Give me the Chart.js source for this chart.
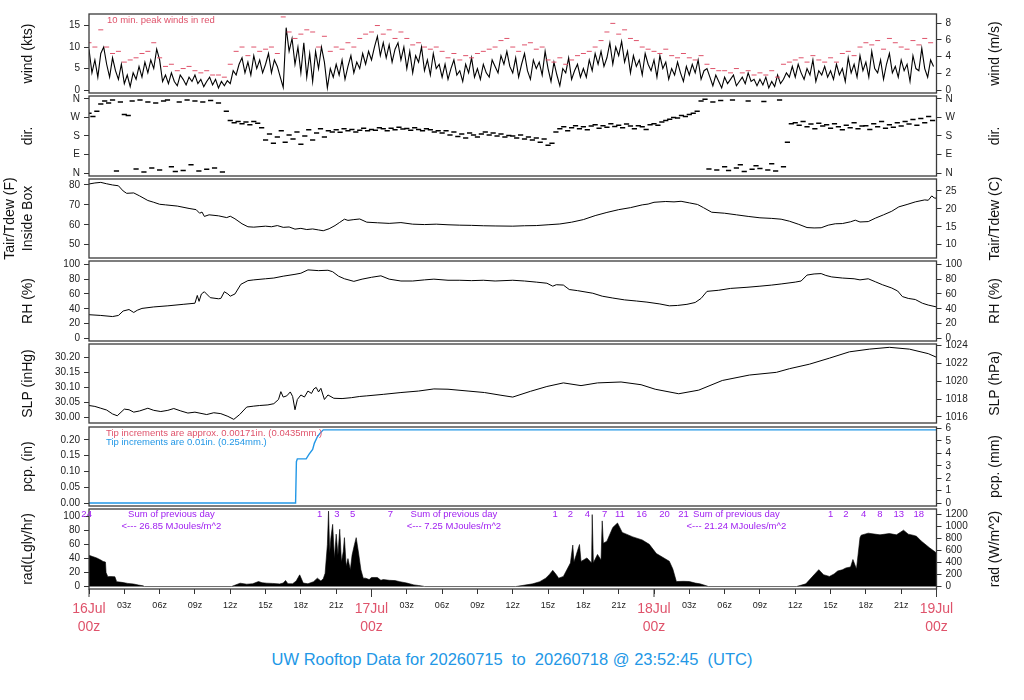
<!DOCTYPE html>
<html>
<head>
<meta charset="utf-8">
<script src="https://cdn.jsdelivr.net/npm/chart.js@4.4.1/dist/chart.umd.min.js"></script>
<style>
  html, body { margin: 0; padding: 0; background: #fff; }
  #wrap { position: relative; width: 1024px; height: 700px; overflow: hidden; }
  canvas { position: absolute; left: 0; }
  #title { position: absolute; left: 0; top: 650px; width: 1024px; line-height: 20px; text-align: center;
           font: 16.5px "Liberation Sans", Arial, sans-serif; color: #2297e6; white-space: pre; }
</style>
</head>
<body>
<div id="wrap">
  <canvas id="cWind"></canvas>
  <canvas id="cDir"></canvas>
  <canvas id="cTemp"></canvas>
  <canvas id="cRh"></canvas>
  <canvas id="cSlp"></canvas>
  <canvas id="cPcp"></canvas>
  <canvas id="cRad"></canvas>
  <div id="title">UW Rooftop Data for 20260715  to  20260718 @ 23:52:45  (UTC)</div>
</div>
<script>
// --- data (hours after 16Jul 00z) ---
const dayLabels = ['16Jul', '17Jul', '18Jul', '19Jul'];

// mean wind (kts), every 15 min
const windKts = [
  9.5, 4, 7, 3, 8.5, 10, 6, 3, 7.5, 4.5, 2.5, 6,
  1.5, 3.5, 0.8, 4, 2.5, 5.5, 3, 6.5, 4, 7, 5, 9.5,
  7, 2, 3.5, 1.5, 4, 2, 1, 3.5, 2.5, 1.2, 3, 2,
  3.5, 1.5, 2.5, 0.8, 2, 3, 1.2, 2.5, 0.5, 2, 1, 2.2,
  1.5, 4.5, 3.5, 6, 7.5, 4, 6.5, 3.5, 8, 5, 7, 4,
  6, 8.5, 4, 7, 5.5, 3, 0.6, 14.5, 9, 12, 6, 10,
  4, 11, 3, 8.5, 2, 9, 5, 10, 6.5, 0.5, 5, 3,
  6, 3.5, 7, 2.5, 5.5, 8, 4, 6.5, 5, 8.5, 6, 9,
  7, 10, 12.5, 8, 11, 7.5, 10.5, 6.5, 9.5, 11, 7, 10,
  5, 9, 4, 8, 6.5, 10, 4.5, 7, 3.5, 8.5, 5, 6,
  3, 6, 2.5, 5, 7, 3.5, 4.5, 2, 6, 4, 7.5, 3,
  5, 2.5, 6, 4, 3, 7, 5.5, 4, 8, 6, 9, 5.5,
  4, 7.5, 3, 6, 8.5, 4.5, 2.5, 7, 5, 6.5, 3.5, 9,
  5, 2, 6.5, 3.5, 1, 5, 4, 7.5, 2.5, 4.5, 6, 3,
  5, 3, 7, 4.5, 8.5, 6, 9, 5.5, 7.5, 11, 6, 10,
  8, 11.3, 6.5, 9, 4, 8, 5.5, 7, 3.5, 8.5, 6, 4.5,
  7, 3, 8, 5, 6.5, 2.5, 5, 3.5, 6.5, 4, 2, 5.5,
  3.5, 6, 4, 7, 2.5, 4.5, 5, 3, 1, 3.5, 2, 0.5,
  3, 1.5, 2.5, 3.5, 1, 2, 3, 1.5, 4, 2, 2.5, 1,
  2.5, 1.2, 3, 0.5, 2, 0.8, 3.5, 1.5, 2.5, 4, 3, 5.5,
  3, 6, 4, 2.5, 5, 3.5, 7, 2, 4.5, 3.5, 5.5, 3,
  4.5, 2.5, 6, 3.5, 5, 2, 7.5, 4, 6, 3, 8, 4.5,
  6.5, 3, 9, 5, 4, 7, 2.5, 6, 8.5, 4, 5.5, 3,
  7, 4.5, 6, 2, 8, 5, 4.5, 9.7, 5, 3, 7, 5.5
];

// 10-min peak wind (kts), every 30 min
const peakKts = [
  11, 10, 14, 10, 8.5, 9,     6.5, 7, 7.5, 8.5, 9, 11,
  7.5, 5.5, 6, 4.5, 5, 5.5,   4.5, 4, 4.5, 3.5, 3.5, 3,
  6, 9, 10, 8, 10, 9,         9.5, 10, 8.5, 17, 13.5, 12,
  13, 14, 13.5, 10, 12.5, 9,  10, 9.5, 11, 10, 12, 13,
  13.5, 15, 13, 14, 12, 13.5, 12, 10.5, 11, 10, 9.5, 10,
  9, 7.5, 8.5, 7, 8, 7.5,     8.5, 9, 9.5, 10, 11.5, 12,
  10, 9, 10.5, 11, 9.5, 10,   7, 6.5, 7.5, 6, 7, 8,
  8.5, 9, 10, 11.5, 13.5, 15.5, 13, 14, 12, 11.5, 10, 9.5,
  9, 8.5, 9.5, 8, 7.5, 8.5,   7.5, 7, 8, 6, 5, 4.5,
  4.5, 4, 5, 4, 4.5, 3.5,     4, 3.5, 4.5, 3, 6, 6.5,
  7, 7.5, 6.5, 8, 7, 6.5,     7.5, 6.5, 8.5, 9, 8, 10,
  11, 10.5, 11.5, 9.5, 12, 11, 10, 9.5, 11.5, 10.5, 12, 11
];

// wind direction (deg), every 20 min
const dirDeg = [
  290, 275, 300, 335, 350, 340, 355, 10, 345,
  285, 280, 350, 20, 355, 5, 345, 25, 340,
  15, 350, 355, 30, 8, 345, 12, 355, 40,
  350, 10, 345, 18, 352, 25, 340, 5, 300,
  255, 245, 250, 240, 248, 235, 250, 242, 220,
  160, 190, 145, 175, 205, 150, 185, 165, 200,
  140, 180, 210, 160, 195, 215, 175, 205, 200,
  210, 198, 215, 205, 212, 200, 208, 218, 205,
  212, 208, 220, 215, 205, 218, 210, 222, 214,
  216, 208, 220, 212, 205, 215, 210, 200, 206,
  195, 205, 185, 200, 178, 190, 170, 195, 185,
  175, 190, 200, 185, 195, 180, 190, 175, 182,
  180, 170, 185, 165, 175, 160, 170, 150, 165,
  135, 145, 200, 215, 225, 205, 220, 230, 215,
  225, 210, 228, 235, 218, 230, 222, 240, 226,
  232, 220, 238, 228, 215, 230, 225, 212, 235,
  240, 232, 248, 255, 262, 270, 268, 280, 275,
  285, 290, 300, 350, 358, 20, 345, 15, 352,
  30, 12, 355, 25, 40, 8, 350, 18, 35,
  22, 348, 15, 45, 10, 355, 30, 150, 240,
  245, 232, 250, 225, 238, 215, 242, 228, 235,
  218, 240, 225, 210, 232, 220, 245, 215, 228,
  230, 212, 240, 225, 250, 218, 235, 222, 245,
  228, 250, 238, 260, 232, 265, 245, 275, 255
];

// air temperature inside box (F)
const tempHours = [0, 0.5, 1, 1.5, 2, 2.5, 2.9, 3.2, 3.8, 4.3, 5, 5.5, 6, 6.5, 7.5, 8.5, 9.1, 9.4, 9.6, 9.8,
  10.2, 11, 11.7, 12, 12.4, 13, 13.5, 14, 15, 15.5, 16, 16.5, 17, 17.5, 18, 18.5, 19, 19.5, 19.9, 20.4,
  20.9, 21.3, 21.7, 22, 22.5, 23, 23.6, 24.5, 25.5, 26.5, 27.5, 28.5, 29.5, 30.5, 31.5, 32.5, 33.5, 34.5, 36,
  37, 38, 39, 40, 41, 42, 43, 44, 45, 46, 47, 47.5, 48, 49, 49.7, 50.3, 51, 51.7, 52.2, 52.9, 54, 55, 56,
  57, 58, 58.8, 59.5, 60.3, 61, 61.6, 62.2, 62.8, 63.4, 64, 64.7, 65.1, 65.5, 66.2, 66.8, 67.5, 68.2, 68.8,
  69.5, 70.2, 71, 71.3, 71.6, 71.8, 72];
const tempF = [80.5, 81, 81.3, 80.6, 80, 79.6, 77, 75.8, 76, 74.5, 72.2, 71.3, 70.3, 70, 69.4, 68.2, 67.6, 65.8, 66.4, 64.2,
  65, 64.5, 63.6, 64.3, 63, 60.5, 59, 58.8, 59.3, 59, 59.6, 58.7, 58.9, 57.8, 58.2, 57.6, 57.9, 57.4, 57, 58,
  59.6, 61.2, 62.8, 62.2, 62.6, 62.9, 61.3, 61, 60.7, 61.1, 60.3, 60.1, 60.3, 60, 59.8, 59.7, 59.5, 59.4, 59.3,
  59.5, 59.6, 60, 60.4, 61.3, 62.6, 64.6, 66.2, 67.6, 68.6, 70, 70.4, 71.3, 71.7, 71.5, 71.8, 71, 70.2, 68.6, 66.3, 65.8, 65, 64.2,
  63.5, 63.2, 62.8, 61.8, 60.2, 58.6, 58.4, 58.5, 59.8, 60.5, 60.6, 61.5, 62.3, 61.4, 61.6, 63.3, 65, 66.8, 69,
  70.2, 71.5, 72.5, 72.3, 74.5, 73.5, 73.3];

// relative humidity (%)
const rhHours = [0, 1, 2, 2.5, 2.9, 3.4, 3.8, 4.1, 4.5, 5.5, 6.7, 8, 9, 9.2, 9.35, 9.55, 9.8, 10.3, 11, 11.2,
  11.5, 11.8, 12, 12.4, 12.9, 13.5, 14, 15, 15.7, 16.5, 17.5, 18, 18.6, 19.5, 20.3, 20.7, 21.2, 21.7, 22.5, 23.2,
  24, 24.8, 25.5, 26.5, 27.5, 28.5, 29.3, 30.5, 31.5, 32.5, 33.5, 34.5, 36, 37, 38, 38.9, 39.4, 39.7, 40.3, 40.8,
  41.5, 42.8, 43.6, 44.5, 45.5, 46.5, 47.4, 48.5, 49.3, 50, 50.8, 51.5, 52, 52.5, 53.5, 54.5, 55.9, 57, 58, 58.8,
  60, 60.5, 61, 61.6, 62.2, 62.6, 63.1, 64, 65, 65.5, 66.2, 66.8, 67.4, 68.2, 68.7, 69.1, 69.6, 70.2, 70.8, 71.3, 72];
const rhPct = [32, 31, 29.5, 31, 37, 39, 35, 38, 40.5, 42.5, 44, 46, 47.5, 58, 50, 60, 63, 55, 53.5, 54,
  63, 60, 57, 60, 73, 78, 79, 80.5, 81.5, 84, 86.5, 88, 92.5, 91.5, 92, 90, 84, 80.5, 77, 80,
  82.5, 84.5, 80, 77.5, 77.5, 79, 80, 78.5, 78.5, 78, 78.5, 77.5, 78.5, 77.5, 76, 74.5, 70.5, 72.5, 72, 66,
  64.5, 61, 57, 54.5, 52, 50.5, 49, 46.5, 44, 44.5, 46, 48.5, 54, 63.5, 65, 67.5, 69, 70.5, 72, 73.5,
  76, 77.5, 85.5, 87, 87.5, 85, 83, 81.5, 80.5, 79, 80.5, 76.5, 72.5, 68, 64, 56.5, 54, 52.5, 47.5, 45, 42.5];

// sea-level pressure (inHg)
const slpHours = [0, 0.5, 1, 1.5, 2, 2.4, 3, 3.4, 3.8, 4.3, 5, 5.5, 6.1, 6.7, 7.2, 7.8, 8.4, 9, 10, 10.6,
  11.2, 11.8, 12.3, 12.8, 13.4, 14, 14.5, 15.2, 15.7, 16.1, 16.3, 16.5, 16.8, 17.1, 17.3, 17.5, 17.7, 18, 18.3, 18.6,
  18.9, 19.1, 19.3, 19.5, 19.7, 20, 20.3, 20.8, 21.5, 22.3, 23, 23.6, 25, 26.5, 28, 29.3, 30.5, 32.2, 33.6, 35,
  36, 37.5, 38.9, 40.3, 41.8, 43.2, 45.2, 46.9, 48.1, 50.1, 51.8, 53.8, 56.1, 58.4, 59.5, 61.2, 62.9, 64.6, 66.3, 68,
  69.7, 71.3, 72];
const slpInHg = [30.040, 30.037, 30.031, 30.025, 30.012, 30.006, 30.028, 30.026, 30.018, 30.022, 30.031, 30.024, 30.020, 30.024, 30.030, 30.022, 30.015, 30.018, 30.010, 30.016,
  30.013, 30.004, 29.994, 30.010, 30.035, 30.038, 30.040, 30.042, 30.046, 30.060, 30.086, 30.068, 30.072, 30.085, 30.070, 30.026, 30.060, 30.075, 30.068, 30.088,
  30.080, 30.095, 30.100, 30.085, 30.097, 30.060, 30.075, 30.064, 30.063, 30.066, 30.070, 30.072, 30.077, 30.083, 30.088, 30.095, 30.094, 30.088, 30.083, 30.074,
  30.068, 30.087, 30.103, 30.115, 30.106, 30.115, 30.118, 30.109, 30.094, 30.079, 30.091, 30.123, 30.141, 30.150, 30.162, 30.177, 30.197, 30.218, 30.227, 30.233,
  30.227, 30.212, 30.200];

// accumulated precipitation (in)
const pcpHours = [0, 17.55, 17.62, 17.7, 18.45, 18.7, 19.0, 19.15, 19.4, 19.6, 19.9, 72];
const pcpIn = [0, 0, 0.131, 0.14, 0.14, 0.155, 0.17, 0.19, 0.21, 0.22, 0.232, 0.232];

// solar radiation (Langley/hr)
const radHours = [0, 0.3, 0.65, 1.0, 1.2, 1.4, 1.45, 1.6, 1.8, 2.2, 2.35, 2.8, 3.3, 3.8, 4.2, 4.6, 4.7,
  12.1, 12.84, 13.4, 13.9, 14.4, 14.7, 15.1, 15.6, 16.2, 16.5, 16.7, 16.9, 17.3, 17.6, 17.9, 18.2, 18.6, 19.08, 19.4,
  19.7, 19.9, 20.06, 20.25, 20.35, 20.45, 20.55, 20.7, 20.85, 21.0, 21.15, 21.3, 21.45, 21.6, 21.7, 21.85, 22.0, 22.2,
  22.35, 22.55, 22.7, 22.9, 23.1, 23.3, 23.5, 23.8, 24.0, 24.5, 24.8, 25.0, 25.5, 26.0, 26.4, 27.0, 27.6, 28.0, 28.4, 28.5,
  36.25, 37.7, 38.3, 38.8, 39.1, 39.4, 39.7, 39.9, 40.3, 40.9, 41.1, 41.2, 41.67, 41.8, 42.3, 42.7, 42.75, 42.85,
  43.2, 43.5, 43.6, 43.7, 44.0, 44.5, 44.9, 45.3, 46.2, 47.0, 47.6, 48.2, 49.3, 49.6, 49.9, 50.5, 51.0, 51.5, 51.9, 52.5, 52.6,
  60.1, 60.9, 61.5, 62.0, 62.4, 62.9, 63.3, 63.6, 64.0, 64.3, 64.7, 64.9, 65.2, 65.5, 65.6, 66.2, 67.2, 68.0, 68.6,
  69.2, 69.6, 70.0, 70.3, 70.7, 71.4, 71.9, 72];
const radLy = [44.7, 43, 41, 38, 36, 35, 20, 14, 14.4, 14, 7, 6, 4.5, 3.6, 2.2, 1, 0,
  0, 4.8, 3.4, 4, 7.2, 5.5, 4.8, 4.5, 3.8, 5, 8.7, 4, 4, 8, 16.8, 5, 4, 7, 12,
  8, 11, 19, 60, 108, 48, 70, 89, 40, 75, 45, 82, 35, 50, 70, 29, 40, 24,
  45, 60, 70, 48, 24, 12, 12, 10, 13, 13, 9, 10, 9, 8.5, 7, 5, 2.4, 1.5, 0.5, 0,
  0, 3.9, 7, 12, 17, 23.2, 17, 12, 14.5, 33.8, 59.4, 35, 60.2, 36, 41, 33.8, 103, 34,
  46, 38, 94, 62, 65, 84.6, 90.9, 77.5, 71.1, 66.7, 60.4, 47.3, 36.2, 25.1, 7.2, 7.5, 7.2, 5, 3.9, 0.9, 0,
  0, 3.9, 15, 24.2, 17, 14.5, 18, 22.2, 24, 26.6, 28, 38.7, 25.1, 70, 73.5, 76.4, 74, 75.9, 74,
  80.7, 75, 73.5, 72, 65.2, 55.6, 49.3, 48];

// hourly accumulated radiation labels and daily sums
const radCumHours = [-0.2, 19.6, 21.05, 22.4, 25.6, 39.6, 40.9, 42.35, 43.8, 45.1, 46.95, 48.9, 50.5, 63.0, 64.3, 65.8, 67.2, 68.8, 70.5];
const radCumLabels = ['24', '1', '3', '5', '7', '1', '2', '4', '7', '11', '16', '20', '21', '1', '2', '4', '8', '13', '18'];
const sumHours = [7, 31, 55];
const sumMJ = ['26.85', '7.25', '21.24'];

// --- drawing ---
const FONT = '"Liberation Sans", Arial, Helvetica, sans-serif';
const PINK = '#df536b';
const BLUE = '#2297e6';
const PURPLE = '#a020f0';
const KTS_PER_MS = 1.94384;
const HPA_PER_INHG = 33.8639;
const W_PER_LY = 11.622;

Chart.defaults.font.family = FONT;
Chart.defaults.animation = false;

const pairs = (xs, ys) => ys.map((y, i) => ({ x: xs[i], y: y }));
const every = (ys, step) => ys.map((y, i) => ({ x: i * step, y: y }));

function rot(ctx, text, x, y) {
  ctx.save();
  ctx.translate(x, y);
  ctx.rotate(-Math.PI / 2);
  ctx.fillText(text, 0, 0);
  ctx.restore();
}

// frame, axis titles and notes
const decor = {
  id: 'decor',
  afterDraw(chart, args, o) {
    const ctx = chart.ctx, a = chart.chartArea;
    ctx.save();
    ctx.strokeStyle = '#3a3a3a';
    ctx.lineWidth = 1.3;
    ctx.strokeRect(a.left, a.top, a.right - a.left, a.bottom - a.top);
    if (o.dayTicks) {
      ctx.lineWidth = 1;
      [0, 24, 48, 72].forEach(h => {
        const x = chart.scales.x.getPixelForValue(h);
        ctx.beginPath(); ctx.moveTo(x, a.bottom); ctx.lineTo(x, a.bottom + 8); ctx.stroke();
      });
    }
    const cy = (a.top + a.bottom) / 2;
    ctx.fillStyle = '#111';
    ctx.font = '14px ' + FONT;
    ctx.textAlign = 'center';
    ctx.textBaseline = 'middle';
    const lt = o.left || [];
    lt.forEach((t, i) => rot(ctx, t, 28 - (lt.length - 1 - i) * 18, cy));
    if (o.right) rot(ctx, o.right, 995, cy);
    (o.notes || []).forEach(n => {
      ctx.font = (n.size || 9.5) + 'px ' + FONT;
      ctx.fillStyle = n.c;
      ctx.textAlign = n.align || 'center';
      const x = n.h !== undefined ? chart.scales.x.getPixelForValue(n.h) : n.x;
      ctx.fillText(n.t, x, a.top + n.dy);
    });
    ctx.restore();
  }
};

function yAxis(pos, min, max, step, cb) {
  return {
    position: pos, min: min, max: max,
    afterFit: s => { s.width = pos === 'left' ? 89 : 87.5; },
    grid: { drawOnChartArea: false, drawTicks: true, tickLength: 5, tickColor: '#333' },
    border: { display: false },
    ticks: { stepSize: step, includeBounds: false, autoSkip: false, padding: 4, color: '#222',
             font: { size: 10 }, callback: cb || (v => v) }
  };
}

function xAxis(show) {
  return {
    type: 'linear', min: 0, max: 72, display: show,
    afterFit: s => { s.height = show ? 50 : 0; },
    grid: { drawOnChartArea: false, drawTicks: true, tickLength: 5, tickColor: '#333' },
    border: { display: false },
    ticks: {
      stepSize: 3, autoSkip: false, maxRotation: 0, padding: 6,
      callback: v => v % 24 === 0 ? [dayLabels[v / 24], '00z'] : String(v % 24).padStart(2, '0') + 'z',
      color: c => (c.tick && c.tick.value % 24 === 0) ? PINK : '#222',
      font: c => (c.tick && c.tick.value % 24 === 0) ? { size: 14, lineHeight: 1.27 } : { size: 9, lineHeight: 1.2 }
    }
  };
}

function panel(id, top, bottom, datasets, y, y2, deco, showX) {
  showX = !!showX;
  const cv = document.getElementById(id);
  const padT = 10, padB = showX ? 0 : 10, xH = showX ? 50 : 0;
  cv.width = 1024;
  cv.height = (bottom - top) + padT + padB + xH;
  cv.style.top = (top - padT) + 'px';
  return new Chart(cv, {
    type: 'line',
    data: { datasets: datasets },
    options: {
      responsive: false,
      animation: false,
      layout: { padding: { top: padT, bottom: padB, left: 0, right: 0 } },
      plugins: { legend: { display: false }, tooltip: { enabled: false }, decor: deco },
      scales: { x: xAxis(showX), y: y, y2: y2 }
    },
    plugins: [decor]
  });
}

const lineDs = (data, color, width) => ({
  data: data, borderColor: color, borderWidth: width, pointRadius: 0, tension: 0, fill: false
});

// wind
const wMin = -0.68, wMax = 17.68;
panel('cWind', 14, 93, [
  Object.assign(lineDs(every(windKts, 0.25), '#000', 1.1), { order: 2 }),
  { data: every(peakKts, 0.5), showLine: false, pointStyle: 'line', pointRadius: 2.5,
    pointBorderColor: PINK, pointBorderWidth: 1, order: 1 }
], yAxis('left', wMin, wMax, 5), yAxis('right', wMin / KTS_PER_MS, wMax / KTS_PER_MS, 2),
  { left: ['wind (kts)'], right: 'wind (m/s)',
    notes: [{ t: '10 min. peak winds in red', x: 107, dy: 6, c: PINK, align: 'left' }] });

// direction
const compass = v => ['N', 'E', 'S', 'W', 'N'][Math.round(v / 90)];
panel('cDir', 96, 176, [
  { data: every(dirDeg, 1 / 3), showLine: false, pointStyle: 'line', pointRadius: 2.6,
    pointBorderColor: '#000', pointBorderWidth: 1.5 }
], yAxis('left', -14.4, 374.4, 90, compass), yAxis('right', -14.4, 374.4, 90, compass),
  { left: ['dir.'], right: 'dir.' });

// temperature
const tMin = 43.3, tMax = 83.0;
panel('cTemp', 179, 258, [lineDs(pairs(tempHours, tempF), '#000', 1)],
  yAxis('left', tMin, tMax, 10), yAxis('right', (tMin - 32) / 1.8, (tMax - 32) / 1.8, 5),
  { left: ['Tair/Tdew (F)', 'Inside Box'], right: 'Tair/Tdew (C)' });

// humidity
panel('cRh', 261, 341, [lineDs(pairs(rhHours, rhPct), '#000', 1)],
  yAxis('left', -3.5, 104.5, 20), yAxis('right', -3.5, 104.5, 20),
  { left: ['RH (%)'], right: 'RH (%)' });

// pressure
const pMin = 29.982, pMax = 30.244;
panel('cSlp', 344, 423, [lineDs(pairs(slpHours, slpInHg), '#000', 1)],
  yAxis('left', pMin, pMax, 0.05, v => v.toFixed(2)),
  yAxis('right', pMin * HPA_PER_INHG, pMax * HPA_PER_INHG, 2),
  { left: ['SLP (inHg)'], right: 'SLP (hPa)' });

// precipitation
const cMin = -0.0093, cMax = 0.241;
panel('cPcp', 427, 506, [lineDs(pairs(pcpHours, pcpIn), BLUE, 1.4)],
  yAxis('left', cMin, cMax, 0.05, v => v.toFixed(2)), yAxis('right', cMin * 25.4, cMax * 25.4, 1),
  { left: ['pcp. (in)'], right: 'pcp. (mm)',
    notes: [
      { t: 'Tip increments are approx. 0.00171in. (0.0435mm.)', x: 106, dy: 6, c: PINK, align: 'left' },
      { t: 'Tip increments are 0.01in. (0.254mm.)', x: 106, dy: 15, c: BLUE, align: 'left' }
    ] });

// radiation
const radNotes = radCumLabels.map((t, i) => ({ t: t, h: radCumHours[i], dy: 5.5, c: PURPLE }));
sumMJ.forEach((s, i) => {
  radNotes.push({ t: 'Sum of previous day', h: sumHours[i], dy: 5.5, c: PURPLE });
  radNotes.push({ t: '<--- ' + s + ' MJoules/m^2', h: sumHours[i], dy: 17, c: PURPLE });
});
const rMin = -3.5, rMax = 111;
panel('cRad', 509, 589, [
  Object.assign(lineDs(pairs(radHours, radLy), '#000', 0.6), { fill: 'origin', backgroundColor: '#000' })
], yAxis('left', rMin, rMax, 20), yAxis('right', rMin * W_PER_LY, rMax * W_PER_LY, 200),
  { left: ['rad(Lgly/hr)'], right: 'rad (W/m^2)', notes: radNotes, dayTicks: true }, true);
</script>
</body>
</html>
